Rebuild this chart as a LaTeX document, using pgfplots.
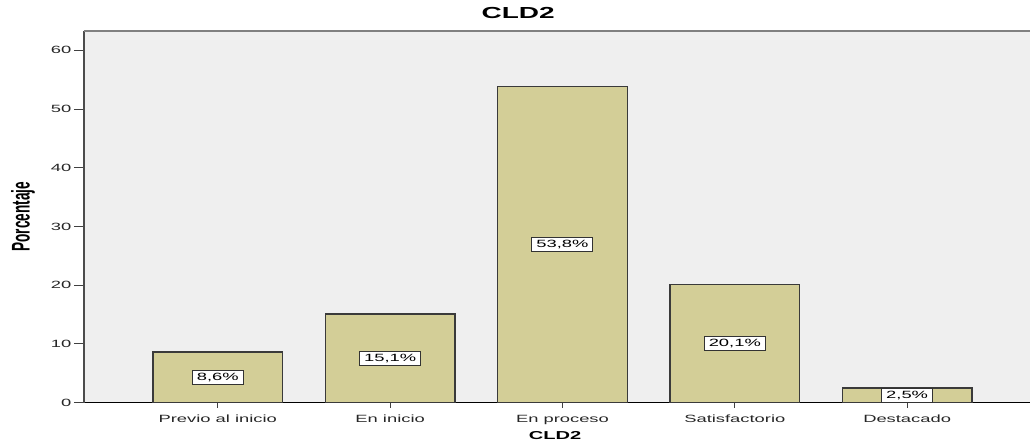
\documentclass[border=0pt]{standalone}
\usepackage{pgfplots}
\pgfplotsset{compat=1.18}
\usepackage{graphicx}
\usepackage{fontspec}
\setmainfont{Liberation Sans}[FakeStretch=1.75]
\newfontfamily\narrowsans{Liberation Sans}[FakeStretch=0.85]
\definecolor{bgc}{HTML}{EFEFEF}
\definecolor{barc}{HTML}{D3CE97}
\definecolor{barline}{HTML}{3A3A3A}
\begin{document}
\begin{tikzpicture}
\begin{axis}[
  at={(0,0)}, anchor=south west,
  scale only axis, width=947bp, height=372bp,
  xmin=-0.777, xmax=4.713, ymin=0, ymax=63.3,
  ybar, bar width=130bp,
  axis background/.style={fill=bgc},
  axis x line*=bottom, axis y line*=left,
  x axis line style={black, line width=1.1bp, -},
  y axis line style={draw=black!70, line width=2bp, -},
  xtick={0,1,2,3,4},
  xticklabels={Previo al inicio, En inicio, En proceso, Satisfactorio, Destacado},
  ytick={0,10,20,30,40,50,60},
  tick align=outside,
  major tick length=10bp,
  ytick style={black!75, line width=1bp},
  xtick style={black!75, line width=1bp, /pgfplots/major tick length=5bp},
  /pgf/number format/assume math mode=true,
  tick label style={font=\fontsize{10.5bp}{12bp}\selectfont, text=black!85},
  yticklabel style={xshift=1bp},
  xticklabel style={yshift=1bp},
  title={\bfseries CLD2},
  title style={font=\fontsize{16bp}{18bp}\selectfont, at={(0.459,1)}, anchor=center, yshift=12bp},
  xlabel={\bfseries CLD2},
  xlabel style={font=\fontsize{11.5bp}{14bp}\selectfont, at={(0.498,0)}, anchor=center, yshift=-33bp},
  ylabel={\scalebox{1}[1.6]{\narrowsans\bfseries Porcentaje}},
  ylabel style={font=\fontsize{16bp}{18bp}\selectfont, at={(0,0.50)}, anchor=center, yshift=61bp},
  visualization depends on={y/2 \as \halfy},
  nodes near coords={\pgfmathprintnumber[fixed, precision=1, fixed zerofill, use comma]{\pgfplotspointmeta}\%},
  every node near coord/.append style={
    anchor=center, shift={(axis direction cs:0,-\halfy)},
    font=\fontsize{10.5bp}{12bp}\selectfont, fill=white, draw=black!80,
    line width=1bp, inner xsep=4.5bp, inner ysep=2.5bp,
    /pgf/number format/assume math mode=true},
  clip=false,
]
\addplot[fill=barc, draw=barline, line width=1.3bp] coordinates {
  (0,8.6) (1,15.1) (2,53.8) (3,20.1) (4,2.5)
};
\draw[black!50, line width=2bp] (rel axis cs:0,1) -- (rel axis cs:1,1);
\end{axis}
\path[use as bounding box] (-84bp,-39bp) rectangle (947bp,403bp);
\end{tikzpicture}
\end{document}
